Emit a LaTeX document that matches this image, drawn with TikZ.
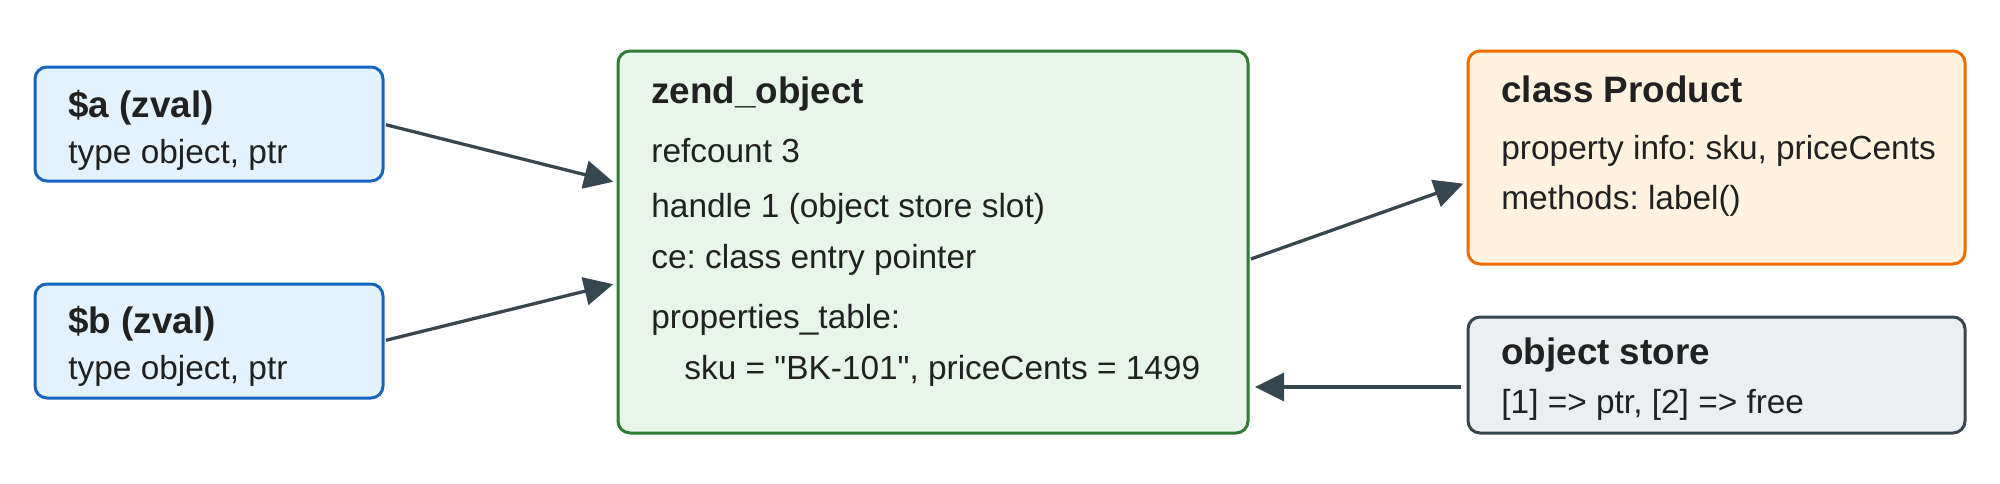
\documentclass[tikz,border=0pt]{standalone}
\usepackage{fontspec}
\setmainfont{Liberation Sans}
\usepackage{xcolor}
\usepackage{tikz}
\usetikzlibrary{arrows.meta}
\frenchspacing
\definecolor{zvalfill}{HTML}{E3F2FD}
\definecolor{zvalline}{HTML}{1565C0}
\definecolor{zendfill}{HTML}{E8F5E9}
\definecolor{zendline}{HTML}{2E7D32}
\definecolor{classfill}{HTML}{FFF3E0}
\definecolor{classline}{HTML}{EF6C00}
\definecolor{storefill}{HTML}{ECEFF1}
\definecolor{storeline}{HTML}{37474F}
\definecolor{ink}{HTML}{212121}
\tikzset{
  box/.style = {draw, rounded corners = 6pt, line width = 1.5pt, inner sep = 0pt, outer sep = 0pt, anchor = north west},
  zvalbox/.style = {box, draw = zvalline, fill = zvalfill, minimum width = 174pt, minimum height = 57pt},
  zendbox/.style = {box, draw = zendline, fill = zendfill, minimum width = 315pt, minimum height = 191pt},
  classbox/.style = {box, draw = classline, fill = classfill, minimum width = 248.5pt, minimum height = 106.5pt},
  storebox/.style = {box, draw = storeline, fill = storefill, minimum width = 248.5pt, minimum height = 58pt},
  head/.style = {anchor = base west, inner sep = 0pt, text = ink, font = \bfseries\fontsize{18.4}{20}\selectfont},
  row/.style = {anchor = base west, inner sep = 0pt, text = ink, font = \fontsize{16.7}{18}\selectfont},
  link/.style = {-{Triangle[length = 14.5pt, width = 14pt]}, line width = 1.65pt, draw = storeline}
}
\begin{document}
\begin{tikzpicture}[x = 0.5pt, y = -0.5pt]
\useasboundingbox (0,0) rectangle (2000,483);
\node[zvalbox] (a) at (35,67) {};
\node[zvalbox] (b) at (35,284) {};
\node[zendbox] (zend) at (618,51) {};
\node[classbox] (product) at (1468,51) {};
\node[storebox] (store) at (1468,317) {};
\node[head] (atitle) at (68,117) {\$a (zval)};
\node[row] (atype) at (68,163) {type object, ptr};
\node[head] (btitle) at (68,333) {\$b (zval)};
\node[row] (btype) at (68,379) {type object, ptr};
\node[head] (zendtitle) at (651,103) {zend\_object};
\node[row] (refcount) at (651,162) {refcount 3};
\node[row] (handle) at (651,217) {handle 1 (object store slot)};
\node[row] (ce) at (651,268) {ce: class entry pointer};
\node[row] (props) at (651,328) {properties\_table:};
\node[row] (propvals) at (684,379) {sku = \textquotedbl BK-101\textquotedbl, priceCents = 1499};
\node[head] (producttitle) at (1501,102) {class Product};
\node[row] (propinfo) at (1501,159) {property info: sku, priceCents};
\node[row] (methods) at (1501,209) {methods: label()};
\node[head] (storetitle) at (1501,364) {object store};
\node[row] (slots) at (1501,413) {[1] => ptr, [2] => free};
\draw[link, shorten <= 1.5pt, shorten >= 2.5pt] (a.east) -- ([yshift = 29.5pt]zend.west);
\draw[link, shorten <= 1.5pt, shorten >= 2.5pt] (b.east) -- ([yshift = -20.5pt]zend.west);
\draw[link, shorten <= 1.5pt, shorten >= 2.5pt] ([yshift = -9pt]zend.east) -- ([yshift = -12.25pt]product.west);
\draw[link, shorten <= 3.5pt, shorten >= 3.5pt] ([yshift = -6pt]store.west) -- ([yshift = -72.5pt]zend.east);
\end{tikzpicture}
\end{document}
